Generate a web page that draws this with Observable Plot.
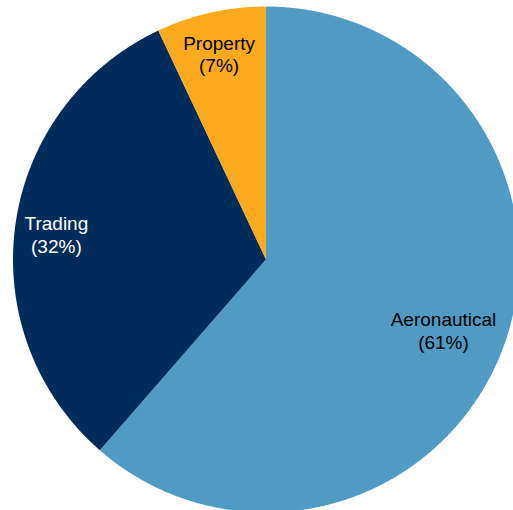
<!DOCTYPE html>
<html>
<head>
<meta charset="utf-8">
<script src="https://cdn.jsdelivr.net/npm/d3@7"></script>
<script src="https://cdn.jsdelivr.net/npm/@observablehq/plot@0.6"></script>
<style>
  html, body { margin: 0; padding: 0; background: #fff; }
  #chart svg { display: block; overflow: hidden; }
</style>
</head>
<body>
<div id="chart"></div>
<script>
const categories = ["Aeronautical", "Trading", "Property"];
const shares = [61.4, 31.6, 7.0];
const colors = ["#4F9BC3", "#002C5C", "#FBAA1E"];
const labelColors = ["#000000", "#ffffff", "#000000"];

const R = 253, cx = 265.5, cy = 259;
const fontSize = 19, lineHeight = 1.2;
const fontFamily = "'Liberation Sans', Arial, sans-serif";

const total = d3.sum(shares);
let acc = 0;
const slices = categories.map((name, i) => {
  const a0 = acc / total * 2 * Math.PI;
  acc += shares[i];
  const a1 = acc / total * 2 * Math.PI;
  return {name, value: shares[i], a0, a1, color: colors[i], labelColor: labelColors[i]};
});

// polygon outline of each slice in unit-radius coordinates (angle clockwise from 12 o'clock)
const pts = [];
for (const s of slices) {
  pts.push({name: s.name, x: 0, y: 0});
  const n = Math.max(2, Math.ceil((s.a1 - s.a0) / 0.005));
  for (let k = 0; k <= n; k++) {
    const a = s.a0 + (s.a1 - s.a0) * k / n;
    pts.push({name: s.name, x: Math.sin(a), y: Math.cos(a)});
  }
  pts.push({name: s.name, x: 0, y: 0});
}

// "best fit" label placement: push the label box outward along the mid-angle
// until its outermost corner touches an inner circle
const ctx = document.createElement("canvas").getContext("2d");
ctx.font = `${fontSize}px ${fontFamily}`;
const T = 247 / R;
const labels = slices.map(s => {
  const lines = [s.name, `(${Math.round(s.value)}%)`];
  const w = d3.max(lines, l => ctx.measureText(l).width) / R;
  const h = lines.length * fontSize * lineHeight / R;
  const m = (s.a0 + s.a1) / 2;
  const ux = Math.sin(m), uy = Math.cos(m);
  const dx = Math.sign(ux) * w / 2, dy = Math.sign(uy) * h / 2;
  const ud = ux * dx + uy * dy, dd = dx * dx + dy * dy;
  const r = -ud + Math.sqrt(ud * ud - dd + T * T);
  return {name: s.name, text: lines.join("\n"), x: r * ux, y: r * uy, color: s.labelColor};
});

const chart = Plot.plot({
  width: 513,
  height: 510,
  margin: 0,
  style: {background: "#fff", fontFamily},
  x: {domain: [-1, 1], range: [cx - R, cx + R], axis: null},
  y: {domain: [-1, 1], range: [cy + R, cy - R], axis: null},
  color: {domain: categories, range: colors},
  marks: [
    Plot.line(pts, {x: "x", y: "y", z: "name", fill: "name", stroke: null, curve: "linear"}),
    Plot.text(labels, {x: "x", y: "y", dy: 4, text: "text", fill: "color", fontSize, lineHeight, textAnchor: "middle"})
  ]
});
document.getElementById("chart").appendChild(chart);
</script>
</body>
</html>
